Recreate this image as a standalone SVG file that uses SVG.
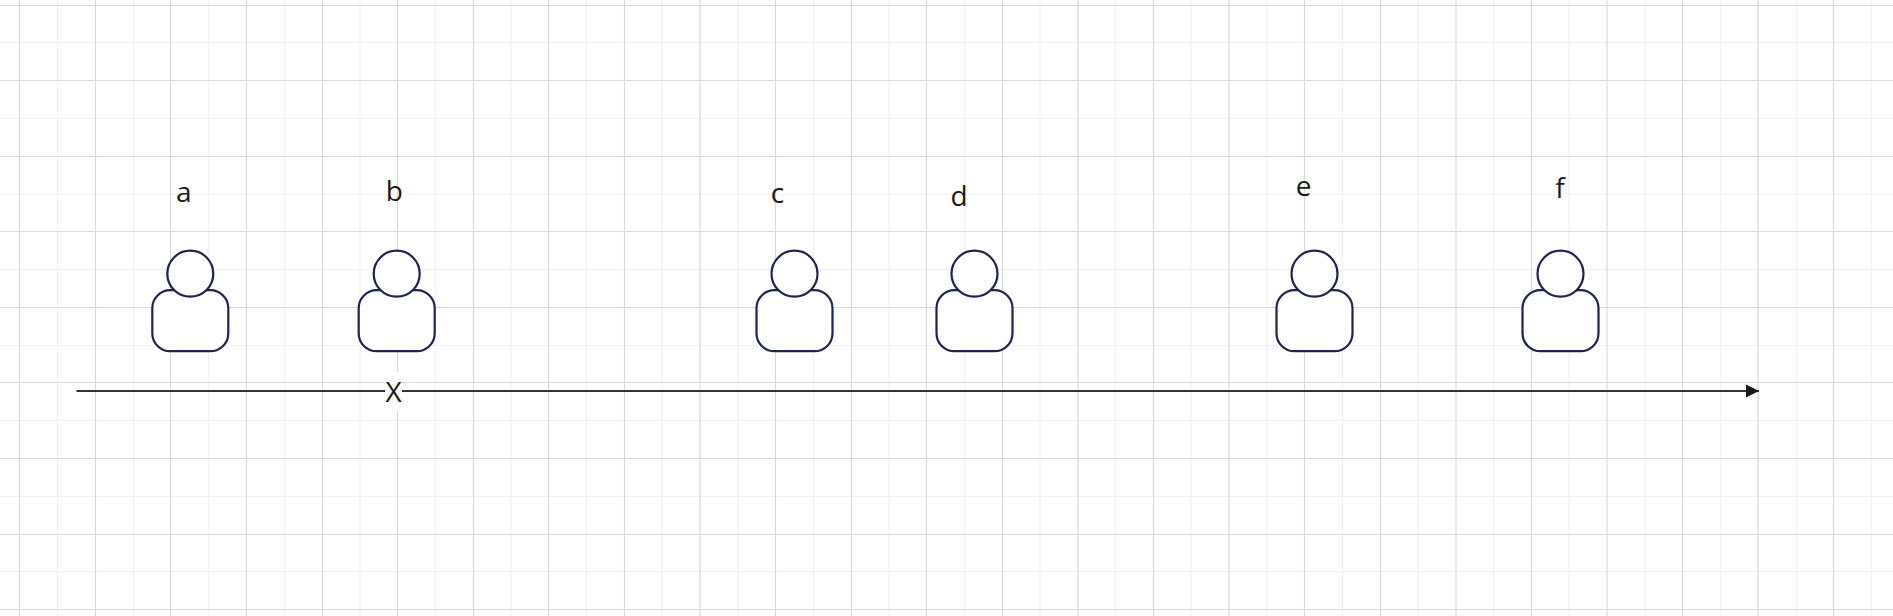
<svg xmlns="http://www.w3.org/2000/svg" width="1893" height="616" viewBox="0 0 1893 616">
<style>
.minor{stroke:#f1f1f1;stroke-width:1.2;fill:none}
.major{stroke:#d9d9d9;stroke-width:1.2;fill:none}
.shape{fill:#fff;stroke:#1e2450;stroke-width:2.2}
.lbl{font-family:"Open Sans",sans-serif;font-size:28px;fill:#1a1a1a;text-anchor:middle}
</style>
<defs>
<marker id="arrow" markerUnits="userSpaceOnUse" markerWidth="14" markerHeight="14" refX="13" refY="7" orient="auto"><path d="M0 0.6L13 7L0 13.4Z" fill="#1a1a1a"/></marker>
<g id="person"><rect class="shape" x="-38" y="16.500" width="76" height="61" rx="18" ry="18"/><circle class="shape" cx="0" cy="0" r="23"/></g>
</defs>
<rect width="1893" height="616" fill="#fff"/>
<g id="grid">
<path class="minor" d="M57.500 0V616M133.500 0V616M208.500 0V616M284.500 0V616M360 0V616M435.500 0V616M511 0V616M586.500 0V616M662 0V616M738 0V616M813.500 0V616M889 0V616M964.500 0V616M1040 0V616M1115.500 0V616M1191 0V616M1267 0V616M1342.500 0V616M1418 0V616M1493.500 0V616M1569 0V616M1645 0V616M1720.500 0V616M1796.500 0V616M1871.500 0V616M0 42.500H1893M0 118.500H1893M0 194H1893M0 269.500H1893M0 345.500H1893M0 420.500H1893M0 496.500H1893M0 571.500H1893"/>
<path class="major" d="M19.500 0V616M95.500 0V616M170.500 0V616M246.500 0V616M322.500 0V616M397.500 0V616M473.500 0V616M548.500 0V616M624.500 0V616M700 0V616M775.500 0V616M851.500 0V616M926.500 0V616M1002.500 0V616M1078 0V616M1153.500 0V616M1229 0V616M1304.500 0V616M1380.500 0V616M1456 0V616M1531.500 0V616M1607 0V616M1682.500 0V616M1758 0V616M1833.500 0V616M0 5.500H1893M0 80.500H1893M0 156.500H1893M0 231.500H1893M0 307.500H1893M0 382.500H1893M0 458.500H1893M0 534.500H1893M0 609.500H1893"/>
</g>
<g id="connectors">
<path d="M76.500 391H1759" fill="none" stroke="#333" stroke-width="2" marker-end="url(#arrow)"/>
<rect x="385" y="372" width="17" height="39" fill="#fff"/>
<text id="label-x" class="lbl" x="393.500" y="402.300">X</text>
</g>
<g id="node-a"><use href="#person" x="190.300" y="273.700"/><text class="lbl" x="183.800" y="201.500">a</text></g>
<g id="node-b"><use href="#person" x="396.700" y="273.700"/><text class="lbl" x="394.300" y="201">b</text></g>
<g id="node-c"><use href="#person" x="794.500" y="273.700"/><text class="lbl" x="777.500" y="203.300">c</text></g>
<g id="node-d"><use href="#person" x="974.500" y="273.700"/><text class="lbl" x="959" y="205.700">d</text></g>
<g id="node-e"><use href="#person" x="1314.500" y="273.700"/><text class="lbl" x="1303.500" y="196">e</text></g>
<g id="node-f"><use href="#person" x="1560.500" y="273.700"/><text class="lbl" x="1560" y="197.700">f</text></g>
</svg>
